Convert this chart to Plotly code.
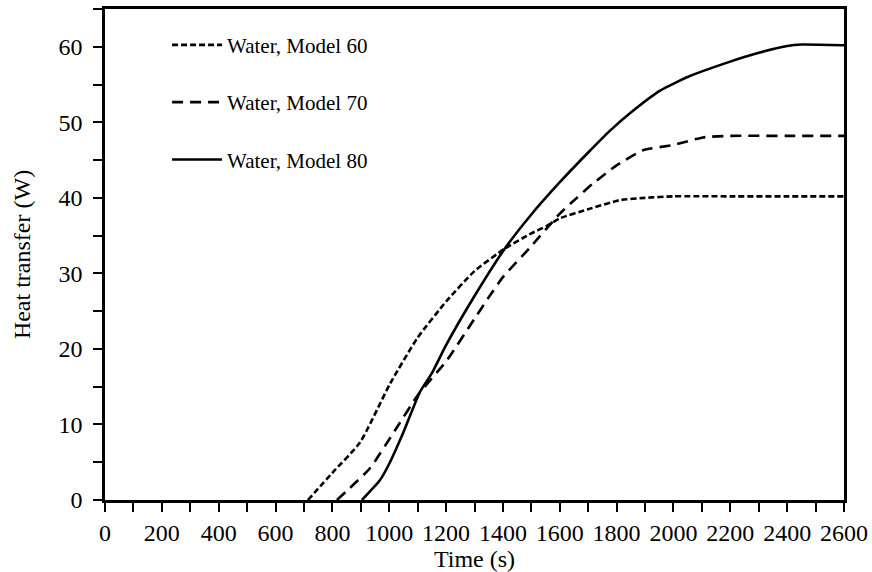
import plotly.graph_objects as go

# Data
t60 = [714, 800, 897, 1003, 1100, 1203, 1300, 1407, 1500, 1555, 1601, 1700, 1812, 1900, 2000, 2200, 2400, 2600]
q60 = [0, 3.6, 7.6, 15.4, 21.5, 26.4, 30.3, 33.3, 35.3, 36.3, 37.3, 38.5, 39.7, 40.0, 40.2, 40.2, 40.2, 40.2]

t70 = [816, 932, 1020, 1101, 1203, 1300, 1355, 1400, 1495, 1600, 1660, 1717, 1800, 1893, 2000, 2104, 2200, 2400, 2600]
q70 = [0, 4.2, 9.2, 13.9, 18.5, 24.0, 27.1, 29.5, 33.4, 37.9, 40.0, 41.9, 44.3, 46.3, 47.0, 48.0, 48.2, 48.2, 48.2]

t80 = [904, 967, 1000, 1048, 1108, 1150, 1200, 1300, 1407, 1500, 1601, 1700, 1777, 1850, 1953, 2050, 2189, 2300, 2400, 2450, 2600]
q80 = [0, 2.6, 4.8, 8.8, 14.3, 16.8, 20.5, 27.0, 33.3, 37.8, 42.1, 46.0, 48.9, 51.3, 54.2, 56.0, 57.9, 59.2, 60.1, 60.3, 60.2]

names = ["Water, Model 60", "Water, Model 70", "Water, Model 80"]
dashes = ["6px,3px", "11px,7px", "solid"]

x_ticks = list(range(0, 2601, 200))
y_ticks = list(range(0, 61, 10))

FONT = "Liberation Serif, Times New Roman, serif"

fig = go.Figure()
for i, (t, q) in enumerate([(t60, q60), (t70, q70), (t80, q80)]):
    fig.add_trace(go.Scatter(
        x=t, y=q, mode="lines", name=names[i], legendgroup=f"g{i}",
        line=dict(color="black", width=2.6, dash=dashes[i], shape="spline", smoothing=0.5),
    ))

axis_common = dict(
    showgrid=False, zeroline=False, showline=True, linecolor="black", linewidth=2.5,
    mirror=True, ticks="outside", ticklen=9, tickwidth=2, tickcolor="black",
    tickfont=dict(family=FONT, size=24, color="black"), automargin=False,
)

fig.update_xaxes(
    range=[0, 2600], tickvals=x_ticks, ticktext=[str(v) for v in x_ticks],
    title=dict(text="Time (s)", font=dict(family=FONT, size=24, color="black"), standoff=0),
    minor=dict(dtick=100, ticks="outside", ticklen=9, tickwidth=2, tickcolor="black"),
    **axis_common,
)
fig.update_yaxes(
    range=[0, 65], tickvals=y_ticks, ticktext=[str(v) for v in y_ticks],
    title=dict(text="Heat transfer (W)", font=dict(family=FONT, size=24, color="black"), standoff=22),
    minor=dict(dtick=5, ticks="outside", ticklen=9, tickwidth=2, tickcolor="black"),
    ticklabelstandoff=6,
    **axis_common,
)

fig.update_layout(
    width=872, height=572,
    margin=dict(l=105, r=28, t=9, b=72),
    paper_bgcolor="white", plot_bgcolor="white",
    legend=dict(
        x=0.084, y=0.968, xanchor="left", yanchor="top",
        font=dict(family=FONT, size=21, color="black"),
        bgcolor="rgba(0,0,0,0)", tracegroupgap=27, itemwidth=50,
    ),
    showlegend=True,
)

fig.write_html("out.html")
